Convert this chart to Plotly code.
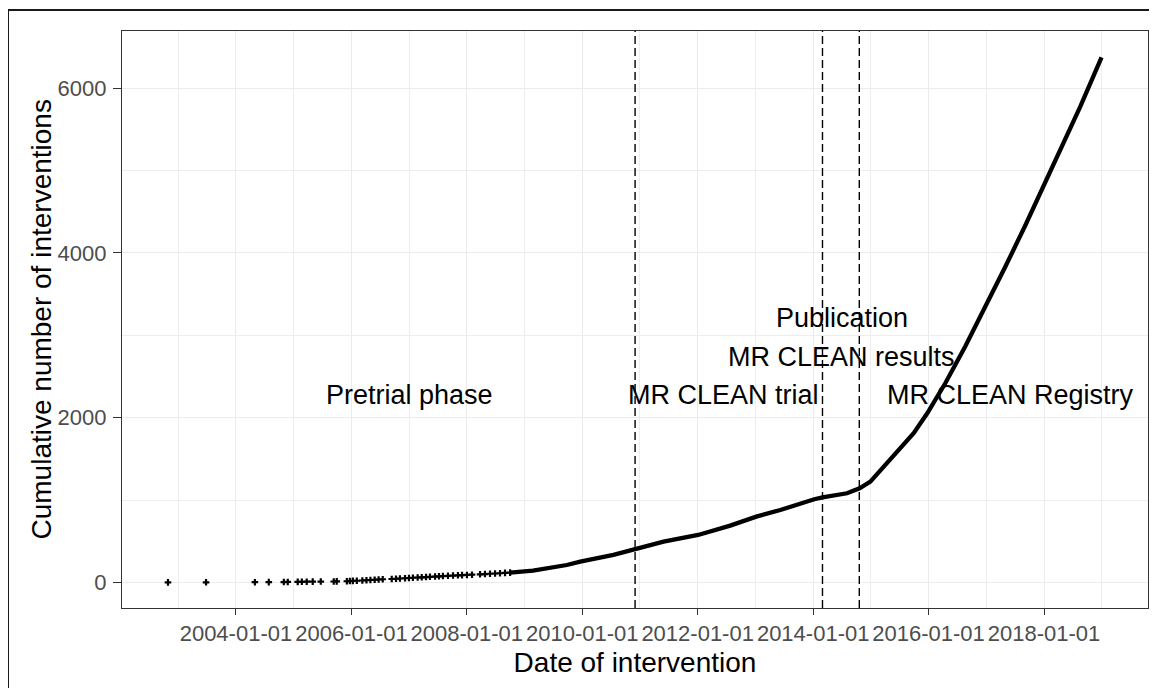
import plotly.graph_objects as go

# ---- data ----
early_dates = [
    "2002-10-28", "2003-06-26", "2004-04-30", "2004-07-27", "2004-10-30",
    "2004-11-24", "2005-01-26", "2005-02-21", "2005-03-24", "2005-05-01",
    "2005-06-21", "2005-09-11", "2005-09-30",
    "2005-12-03", "2005-12-22", "2006-01-10", "2006-02-04", "2006-03-11",
    "2006-04-06", "2006-05-01", "2006-05-28", "2006-06-22", "2006-07-18",
    "2006-09-13", "2006-10-10", "2006-11-04", "2006-12-06", "2006-12-31",
    "2007-01-25", "2007-02-24", "2007-03-22", "2007-04-18", "2007-05-13",
    "2007-06-14", "2007-07-09", "2007-08-03", "2007-09-04", "2007-10-06",
    "2007-11-06", "2007-12-02", "2008-01-02", "2008-02-03",
    "2008-03-25", "2008-04-25", "2008-05-27", "2008-06-28", "2008-07-29",
    "2008-08-30", "2008-10-01",
]
early_counts = [
    1, 2, 3, 4, 5, 6, 7, 8, 9, 10, 11, 12, 13,
    15, 17, 19, 21, 24, 27, 30, 33, 36, 39,
    42, 45, 48, 51, 54, 57, 60, 63, 66, 69, 72, 75, 78, 81, 84, 87, 89, 91, 94,
    99, 102, 106, 109, 112, 116, 120,
]

curve_dates = [
    "2008-10-01", "2009-02-23", "2009-09-25", "2009-12-19", "2010-07-17",
    "2010-11-30", "2011-05-30", "2012-01-04", "2012-07-25", "2013-01-06",
    "2013-06-07", "2014-01-08", "2014-03-01", "2014-08-03", "2014-10-22",
    "2014-12-29", "2015-05-04", "2015-09-29", "2015-12-24", "2016-04-16",
    "2016-08-21", "2016-12-26", "2017-05-01", "2017-09-05", "2018-01-03",
    "2018-04-15", "2018-08-19", "2018-12-31",
]
curve_counts = [
    120, 143, 212, 253, 334,
    403, 495, 577, 690, 799,
    880, 1010, 1034, 1083, 1144,
    1224, 1487, 1811, 2054, 2418,
    2868, 3341, 3832, 4337, 4826,
    5246, 5780, 6376,
]

phase_dates = ["2010-12-01", "2014-03-01", "2014-10-20"]

label_texts = ["Pretrial phase", "MR CLEAN trial", "Publication",
               "MR CLEAN results", "MR CLEAN Registry"]
label_dates = ["2007-01-01", "2012-06-10", "2014-07-01", "2014-07-01", "2017-06-01"]
label_values = [2270, 2270, 3210, 2740, 2270]

x_range = ["2002-01-10", "2019-10-21"]
y_range = [-310, 6695]

FONT = "Liberation Sans, Arial, sans-serif"

# page body has an 8px margin; figure coordinates are page coordinates - 8
W, H = 1149, 680
ML, MT, MR, MB = 114, 23, 9, 80
PW = W - ML - MR
PH = H - MT - MB

fig = go.Figure()

fig.add_trace(go.Scatter(
    x=curve_dates, y=curve_counts, mode="lines",
    line=dict(color="black", width=4.3),
    hoverinfo="skip", showlegend=False,
))
fig.add_trace(go.Scatter(
    x=early_dates, y=early_counts, mode="markers",
    marker=dict(color="black", size=5.5, symbol="cross"),
    showlegend=False,
))

for d in phase_dates:
    fig.add_shape(type="line", xref="x", yref="paper", x0=d, x1=d, y0=0, y1=1,
                  line=dict(color="black", width=1.4, dash="8px,4px"))

for t, d, v in zip(label_texts, label_dates, label_values):
    fig.add_annotation(x=d, y=v, text=t, showarrow=False,
                       xanchor="center", yanchor="middle",
                       font=dict(family=FONT, size=27, color="black"))

# y-axis title placed as annotation
fig.add_annotation(xref="paper", yref="paper",
                   x=(41 - 8 - ML) / PW, y=0.5, text="Cumulative number of interventions",
                   textangle=-90, showarrow=False, xanchor="center", yanchor="middle",
                   font=dict(family=FONT, size=28, color="black"))

# outer frame (cropped on the right and bottom in the reference)
fig.add_shape(type="rect", xref="paper", yref="paper",
              x0=(0 - ML) / PW, x1=(W + 20 - ML) / PW,
              y0=-(MB + 20) / PH, y1=(PH + MT - 2) / PH,
              line=dict(color="#1a1a1a", width=2), layer="above")

fig.update_layout(
    width=W, height=H,
    margin=dict(l=ML, r=MR, t=MT, b=MB),
    paper_bgcolor="white", plot_bgcolor="white",
    font=dict(family=FONT),
    showlegend=False,
    xaxis=dict(
        type="date", range=x_range,
        tick0="2004-01-01", dtick="M24", tickformat="%Y-%m-%d",
        ticks="outside", ticklen=6, tickwidth=1.1, tickcolor="#333333",
        tickfont=dict(family=FONT, size=22, color="#4D4D4D"),
        showgrid=True, gridcolor="#EBEBEB", gridwidth=1.1,
        minor=dict(dtick="M12", tick0="2003-01-01", showgrid=True,
                   gridcolor="#EDEDED", gridwidth=1),
        showline=True, linecolor="#333333", linewidth=1.1, mirror=True,
        zeroline=False,
        title=dict(text="Date of intervention",
                   font=dict(family=FONT, size=28, color="black"), standoff=6),
    ),
    yaxis=dict(
        range=y_range, tick0=0, dtick=2000,
        ticks="outside", ticklen=8, tickwidth=1.1, tickcolor="#333333",
        ticklabelstandoff=2,
        tickfont=dict(family=FONT, size=22, color="#4D4D4D"),
        showgrid=True, gridcolor="#EBEBEB", gridwidth=1.1,
        minor=dict(dtick=1000, showgrid=True, gridcolor="#EDEDED", gridwidth=1),
        showline=True, linecolor="#333333", linewidth=1.1, mirror=True,
        zeroline=False,
    ),
)

fig.write_html("out.html")
